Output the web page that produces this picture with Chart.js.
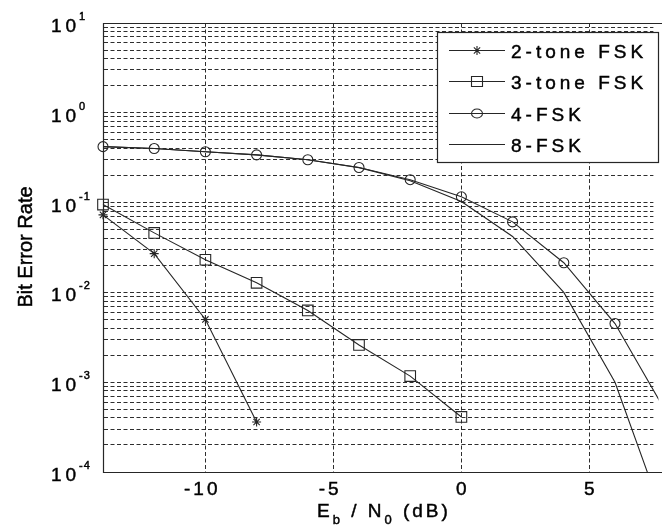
<!DOCTYPE html>
<html>
<head>
<meta charset="utf-8">
<script src="https://cdn.jsdelivr.net/npm/chart.js@4"></script>
<style>
html, body { margin: 0; padding: 0; background: #fff; }
canvas { display: block; }
</style>
</head>
<body>
<canvas id="ber" width="662" height="527"></canvas>
<script>
"use strict";
// Eb/N0 (dB) sample points
var ebn0 = [-14, -12, -10, -8, -6, -4, -2, 0, 2, 4, 6, 8];
// bit error rates
var ber2tone = [0.073, 0.027, 0.005, 0.00036];
var ber3tone = [0.095, 0.046, 0.0231, 0.0128, 0.0063, 0.0026, 0.00117, 0.00041];
var ber4fsk = [0.42, 0.40, 0.368, 0.34, 0.30, 0.246, 0.18, 0.116, 0.061, 0.0214, 0.0045, 0.00046];
var ber8fsk = [0.42, 0.40, 0.368, 0.34, 0.30, 0.245, 0.175, 0.103, 0.042, 0.010, 0.001, 0.000026];
var legendLabels = ["2-tone FSK", "3-tone FSK", "4-FSK", "8-FSK"];
var markers = ["star", "rect", "circle", false];
var xTicks = [-10, -5, 0, 5];
var yDecades = [1e-4, 1e-3, 1e-2, 1e-1, 1, 10];
var yExp = ["-4", "-3", "-2", "-1", "0", "1"];

var ink = "#262626";
var fonte = "'Liberation Sans', Arial, sans-serif";

function pts(ys) {
    return ys.map(function (y, i) { return {x: ebn0[i], y: y}; });
}

// every 1..9 x 10^k line of the log grid
var yGrid = [];
for (var k = -4; k <= 0; k++) {
    for (var m = 1; m <= 9; m++) {
        yGrid.push(m * Math.pow(10, k));
    }
}
yGrid.push(10);

// text drawn char by char to get the wide spacing, lightly stroked so it reads heavier
function widthSpaced(ctx, txt, sp) {
    var w = 0;
    for (var i = 0; i < txt.length; i++) {
        w += ctx.measureText(txt[i]).width + (i < txt.length - 1 ? sp : 0);
    }
    return w;
}
function drawSpaced(ctx, txt, x, y, sp) {
    for (var i = 0; i < txt.length; i++) {
        ctx.fillText(txt[i], x, y);
        ctx.strokeText(txt[i], x, y);
        x += ctx.measureText(txt[i]).width + sp;
    }
    return x;
}

function drawMarker(ctx, style, x, y) {
    ctx.beginPath();
    if (style === "star") {
        var r = 4.5;
        ctx.moveTo(x - r, y); ctx.lineTo(x + r, y);
        ctx.moveTo(x, y - r); ctx.lineTo(x, y + r);
        var d = r * 0.7;
        ctx.moveTo(x - d, y - d); ctx.lineTo(x + d, y + d);
        ctx.moveTo(x - d, y + d); ctx.lineTo(x + d, y - d);
    } else if (style === "rect") {
        ctx.rect(x - 5.5, y - 5, 11, 10);
    } else if (style === "circle") {
        ctx.ellipse(x, y, 5.5, 4.5, 0, 0, Math.PI * 2);
    }
    ctx.stroke();
}

var textos = {
    id: "textos",
    afterDraw: function (chart) {
        var ctx = chart.ctx;
        var a = chart.chartArea;
        var xs = chart.scales.x;
        var ys = chart.scales.y;
        ctx.save();
        ctx.strokeStyle = ink;
        ctx.lineWidth = 1.2;
        ctx.setLineDash([]);

        // axes frame (left, top, bottom), running off the right edge like the reference
        ctx.beginPath();
        ctx.moveTo(chart.width, a.top + 0.5);
        ctx.lineTo(a.left + 0.5, a.top + 0.5);
        ctx.lineTo(a.left + 0.5, a.bottom + 0.5);
        ctx.lineTo(chart.width, a.bottom + 0.5);
        ctx.stroke();

        ctx.fillStyle = "#000";
        ctx.strokeStyle = "#000";
        ctx.lineWidth = 0.45;
        ctx.textBaseline = "alphabetic";
        ctx.textAlign = "left";

        // y tick labels 10^k
        for (var i = 0; i < yDecades.length; i++) {
            var py = ys.getPixelForValue(yDecades[i]);
            ctx.font = "19px " + fonte;
            drawSpaced(ctx, "10", 51, py + 9, 4);
            ctx.font = "11px " + fonte;
            drawSpaced(ctx, yExp[i], 79, py - 3, 1);
        }

        // x tick labels
        ctx.font = "19px " + fonte;
        for (var j = 0; j < xTicks.length; j++) {
            var lab = String(xTicks[j]);
            var px = xs.getPixelForValue(xTicks[j]);
            var wAll = widthSpaced(ctx, lab, 3);
            var wDig = widthSpaced(ctx, lab.replace("-", ""), 3);
            drawSpaced(ctx, lab, px + wDig / 2 - wAll, 495, 3);
        }

        // x title  E_b / N_0 (dB)
        var big = "19px " + fonte;
        var sub = "13px " + fonte;
        var tx = 317;
        ctx.font = big; tx = drawSpaced(ctx, "E", tx, 517, 3);
        ctx.font = sub; tx = drawSpaced(ctx, "b", tx, 524, 3);
        ctx.font = big; tx = drawSpaced(ctx, " / N", tx, 517, 3);
        ctx.font = sub; tx = drawSpaced(ctx, "0", tx, 524, 3);
        ctx.font = big; drawSpaced(ctx, " (dB)", tx, 517, 3);

        // y title
        ctx.save();
        ctx.translate(32, 247);
        ctx.rotate(-Math.PI / 2);
        ctx.font = "20px " + fonte;
        ctx.textAlign = "center";
        ctx.fillText("Bit Error Rate", 0, 0);
        ctx.strokeText("Bit Error Rate", 0, 0);
        ctx.restore();

        // legend box
        ctx.fillStyle = "#fff";
        ctx.fillRect(437, 32, 221, 130);
        ctx.strokeStyle = ink;
        ctx.lineWidth = 1.2;
        ctx.strokeRect(437.5, 32.5, 221, 130);
        for (var n = 0; n < legendLabels.length; n++) {
            var ry = Math.round(50 + n * 31.4) + 0.5;
            ctx.strokeStyle = ink;
            ctx.lineWidth = 1.1;
            ctx.beginPath();
            ctx.moveTo(449, ry);
            ctx.lineTo(505, ry);
            ctx.stroke();
            if (markers[n]) {
                drawMarker(ctx, markers[n], 477, ry);
            }
            ctx.fillStyle = "#000";
            ctx.strokeStyle = "#000";
            ctx.lineWidth = 0.45;
            ctx.font = "19px " + fonte;
            drawSpaced(ctx, legendLabels[n], 511, ry + 7, 4);
        }
        ctx.restore();
    }
};

function serie(label, ys, style, radius) {
    return {
        label: label,
        data: pts(ys),
        borderColor: ink,
        borderWidth: 1.1,
        backgroundColor: "rgba(0,0,0,0)",
        pointStyle: style,
        pointRadius: radius,
        pointBorderColor: ink,
        pointBackgroundColor: "rgba(0,0,0,0)",
        pointBorderWidth: 1.1,
        fill: false,
        tension: 0,
        // markers on the left edge stay whole, curves run on to the picture's right edge
        clip: {left: 8, top: 8, right: 5, bottom: 0}
    };
}

var ctx = document.getElementById("ber").getContext("2d");
var chart = new Chart(ctx, {
    type: "line",
    data: {
        datasets: [
            serie(legendLabels[0], ber2tone, "star", 4.5),
            serie(legendLabels[1], ber3tone, "rect", 7.5),
            serie(legendLabels[2], ber4fsk, "circle", 5),
            serie(legendLabels[3], ber8fsk, false, 0)
        ]
    },
    options: {
        responsive: false,
        animation: false,
        layout: {padding: {top: 23, left: 0, right: 0, bottom: 0}},
        plugins: {
            legend: {display: false},
            tooltip: {enabled: false}
        },
        scales: {
            x: {
                type: "linear",
                min: -14,
                max: 7.5,
                afterBuildTicks: function (scale) {
                    scale.ticks = xTicks.map(function (v) { return {value: v}; });
                },
                afterFit: function (scale) { scale.height = 55; },
                ticks: {display: false},
                grid: {color: "#2e2e2e", lineWidth: 1, drawTicks: false},
                border: {display: true, color: ink, width: 1, dash: [4, 2.5]}
            },
            y: {
                type: "logarithmic",
                min: 1e-4,
                max: 10,
                afterBuildTicks: function (scale) {
                    scale.ticks = yGrid.map(function (v) { return {value: v}; });
                },
                afterFit: function (scale) { scale.width = 103; },
                ticks: {display: false},
                grid: {color: "#2e2e2e", lineWidth: 1, drawTicks: false},
                border: {display: true, color: ink, width: 1, dash: [4, 2.5]}
            }
        }
    },
    plugins: [textos]
});
</script>
</body>
</html>
